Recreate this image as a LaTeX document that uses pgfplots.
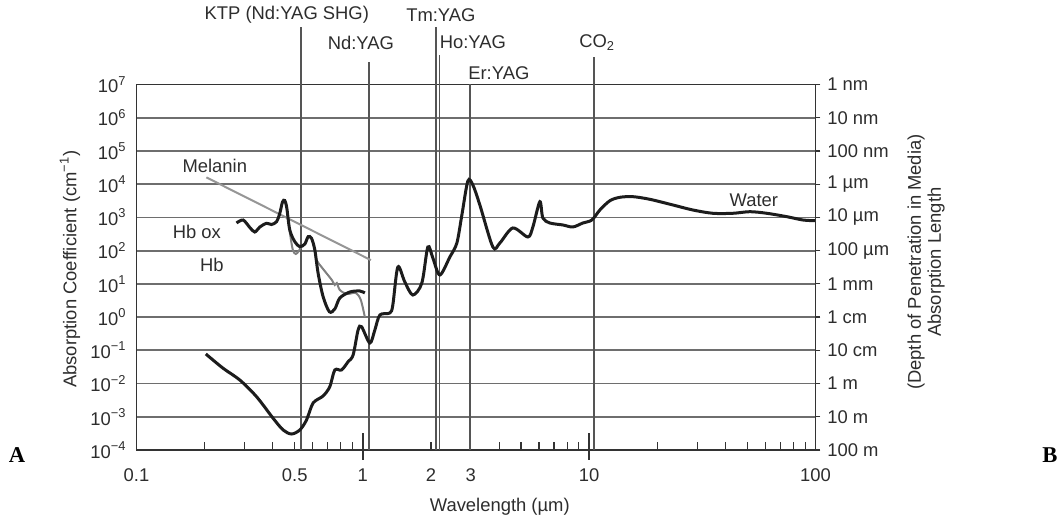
\documentclass[border=0pt]{standalone}
\usepackage{pgfplots}
\pgfplotsset{compat=1.18}
\usepackage{fontspec}
\setmainfont{Liberation Sans}
\newfontfamily\timesfont{Liberation Serif}
\newcommand\lbl{\fontsize{9.2}{10}\selectfont}
\definecolor{gridc}{RGB}{110,110,110}
\definecolor{curve}{RGB}{28,28,28}
\definecolor{hbgray}{RGB}{128,128,128}
\definecolor{melgray}{RGB}{150,150,150}
\definecolor{txt}{RGB}{45,45,45}
\definecolor{laser}{RGB}{85,85,85}
\begin{document}
\begin{tikzpicture}
\useasboundingbox (0,0) rectangle (529pt,260pt);
\begin{axis}[
  at={(68.25pt,35pt)}, anchor=south west,
  scale only axis, width=339.5pt, height=182.75pt,
  xmode=log, ymode=log,
  xmin=0.1, xmax=100, ymin=1e-4, ymax=1e7,
  clip=false,
  axis line style={line width=0.8pt, color=black!80},
  xtick pos=bottom, ytick pos=left,
  xtick={0.1,0.5,1,2,3,10,100},
  xticklabels={0.1,0.5,1,2,3,10,100},
  minor xtick={0.2,0.3,0.4,0.6,0.7,0.8,0.9,4,5,6,7,8,9,20,30,40,50,60,70,80,90},
  yminorticks=false,
  tick align=inside,
  major tick length=4pt, minor tick length=4pt,
  xtick style={line width=0.6pt, color=black!80},
  xticklabel style={font=\lbl, text=txt, inner sep=0pt, anchor=north, yshift=-9pt},
  ytick={1e-4,1e-3,1e-2,1e-1,1,10,100,1e3,1e4,1e5,1e6,1e7},
  yticklabels={10\textsuperscript{−4},10\textsuperscript{−3},10\textsuperscript{−2},10\textsuperscript{−1},10\textsuperscript{0},10\textsuperscript{1},10\textsuperscript{2},10\textsuperscript{3},10\textsuperscript{4},10\textsuperscript{5},10\textsuperscript{6},10\textsuperscript{7}},
  ytick style={draw=none},
  yticklabel style={font=\lbl, text=txt, inner sep=0pt, anchor=east, xshift=-4.75pt},
  ymajorgrids=true,
  grid style={line width=0.9pt, color=gridc},
  /pgf/number format/assume math mode=true,
]
% laser lines
\addplot[laser, line width=0.8pt] coordinates {(0.532,1e-4) (0.532,5.37e8)};
\addplot[laser, line width=0.8pt] coordinates {(1.064,1e-4) (1.064,4.75e7)};
\addplot[laser, line width=0.8pt] coordinates {(2.10,1e-4) (2.10,5.37e8)};
\addplot[laser, line width=0.8pt] coordinates {(2.178,1e-4) (2.178,7.73e7)};
\addplot[laser, line width=0.8pt] coordinates {(2.97,1e-4) (2.97,1e7)};
\addplot[laser, line width=0.8pt] coordinates {(10.49,1e-4) (10.49,6.76e7)};
% long decade ticks at 1 and 10
\draw[line width=1pt, black!80] ([yshift=-4.8pt]axis cs:1,1e-4) -- ([yshift=8.75pt]axis cs:1,1e-4);
\draw[line width=1pt, black!80] ([yshift=-4.8pt]axis cs:10,1e-4) -- ([yshift=8.75pt]axis cs:10,1e-4);
% melanin
\addplot[melgray, line width=1pt] coordinates {(0.2036,16000) (1.085,52)};
% Hb (deoxy)
\addplot[hbgray, line width=1pt, smooth, tension=0.5] coordinates {
(0.4297,1330)(0.4416,2911)(0.4520,3228)(0.4614,1919)(0.4756,364)(0.4906,104.7)(0.5058,79.3)(0.5214,97.6)(0.5376,138)(0.5543,158.5)(0.5733,258)(0.5934,230)(0.6137,104.7)(0.6243,52.4)(0.6568,32.2)(0.6912,20.8)(0.7295,13.1)(0.7521,9.25)(0.7676,10.6)(0.7914,6.55)(0.8500,4.96)(0.9313,5.32)(0.9798,3.27)(1.0206,1.007)};
% Hb ox
\addplot[curve, line width=1.5pt, smooth, tension=0.5] coordinates {
(0.2766,679)(0.2959,836)(0.3167,498)(0.3332,364)(0.3507,515)(0.3754,665)(0.3950,612)(0.4155,743)(0.4297,1330)(0.4416,2911)(0.4520,3228)(0.4614,1919)(0.4756,418)(0.5005,186)(0.5267,131.5)(0.5543,158.5)(0.5733,263)(0.5934,235.5)(0.6137,104.7)(0.6346,20.8)(0.6677,4.11)(0.7116,1.445)(0.7521,1.754)(0.7914,3.76)(0.8761,5.70)(0.9699,6.11)(1.0206,5.32)};
% Water
\addplot[curve, line width=1.5pt, smooth, tension=0.5] coordinates {
(0.2024,0.0776)(0.2414,0.0288)(0.2860,0.0128)(0.3391,0.00403)(0.4015,0.000902)(0.4444,0.000401)(0.4841,0.000303)(0.5267,0.000401)(0.5639,0.000801)(0.6031,0.0026)(0.6677,0.00423)(0.7146,0.00805)(0.7521,0.0256)(0.8051,0.0256)(0.861,0.0455)(0.906,0.0724)(0.953,0.409)(0.987,0.514)(1.074,0.166)(1.130,0.409)(1.189,1.156)(1.316,1.33)(1.357,2.31)(1.428,32.2)(1.533,11.4)(1.663,4.62)(1.823,10.6)(1.938,129)(2.039,60.1)(2.189,18.5)(2.424,64.4)(2.603,170)(2.739,1183)(2.911,12470)(3.063,9460)(3.289,2366)(3.754,129)(4.031,170)(4.601,481)(5.359,258)(5.640,515)(6.056,2972)(6.243,961)(6.705,679)(7.652,592)(8.472,515)(9.380,679)(10.28,836)(11.15,1671)(12.35,3184)(13.67,4029)(15.60,4207)(18.54,3508)(23.44,2366)(28.72,1671)(35.21,1330)(43.15,1330)(51.30,1486)(60.99,1330)(74.74,1051)(87.96,836)(99.4,796)};
% curve labels
\node[font=\lbl, text=txt] at (axis cs:0.2218,35240) {Melanin};
\node[font=\lbl, text=txt] at (axis cs:0.1847,377) {Hb ox};
\node[font=\lbl, text=txt] at (axis cs:0.2152,38.3) {Hb};
\node[font=\lbl, text=txt] at (axis cs:53.4,3342) {Water};
% laser labels
\node[font=\lbl, text=txt] at ([yshift=34.75pt]axis cs:0.4614,1e7) {KTP (Nd:YAG SHG)};
\node[font=\lbl, text=txt] at ([yshift=34.75pt]axis cs:2.212,1e7) {Tm:YAG};
\node[font=\lbl, text=txt] at ([yshift=21pt]axis cs:0.98,1e7) {Nd:YAG};
\node[font=\lbl, text=txt] at ([yshift=21pt]axis cs:3.063,1e7) {Ho:YAG};
\node[font=\lbl, text=txt] at ([yshift=5.5pt]axis cs:3.99,1e7) {Er:YAG};
\node[font=\lbl, text=txt] at ([yshift=21pt]axis cs:10.85,1e7) {CO\textsubscript{2}};
% axis labels
\node[font=\lbl, text=txt, rotate=90] at ([xshift=-33.25pt]rel axis cs:0,0.495) {Absorption Coefficient (cm\textsuperscript{−1})};
\node[font=\lbl, text=txt] at ([yshift=-28.5pt]rel axis cs:0.535,0) {Wavelength (µm)};
\node[font=\lbl, text=txt, rotate=90, align=center] at ([xshift=55.25pt]rel axis cs:1,0.514) {(Depth of Penetration in Media)\\Absorption Length};
\end{axis}
\begin{axis}[
  at={(68.25pt,35pt)}, anchor=south west,
  scale only axis, width=339.5pt, height=182.75pt,
  xmode=log, ymode=log,
  xmin=0.1, xmax=100, ymin=1e-4, ymax=1e7,
  axis x line=none, axis y line*=right,
  yminorticks=false,
  axis line style={line width=0.8pt, color=black!80},
  ytick={1e-4,1e-3,1e-2,1e-1,1,10,100,1e3,1e4,1e5,1e6,1e7},
  yticklabels={100 m,10 m,1 m,10 cm,1 cm,1 mm,100 µm,10 µm,1 µm,100 nm,10 nm,1 nm},
  tick align=outside, major tick length=2.5pt,
  ytick style={line width=0.6pt, color=black!80},
  yticklabel style={font=\lbl, text=txt, inner sep=0pt, anchor=west, xshift=3.25pt},
]
\end{axis}
\node[font=\timesfont\bfseries\fontsize{11.3}{12}\selectfont] at (8.5pt,32.5pt) {A};
\node[font=\timesfont\bfseries\fontsize{11.3}{12}\selectfont] at (525pt,32.5pt) {B};
\end{tikzpicture}
\end{document}
